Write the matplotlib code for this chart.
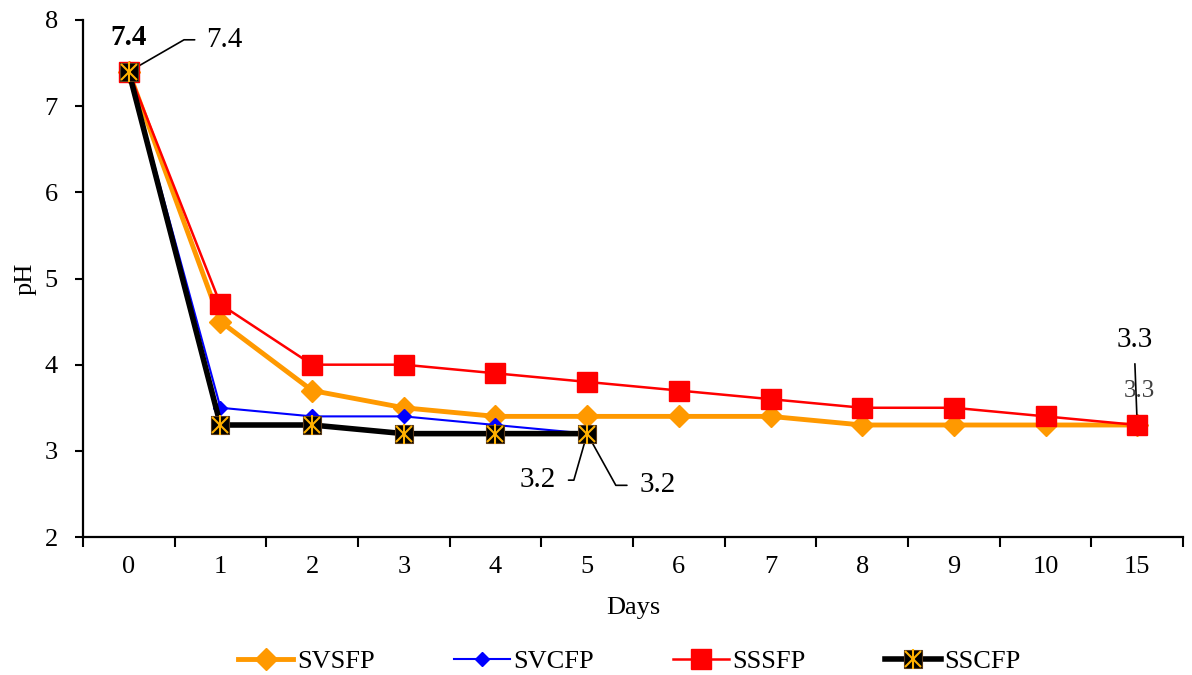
import matplotlib
matplotlib.use("Agg")
import matplotlib.pyplot as plt
from matplotlib.legend_handler import HandlerTuple

plt.rcParams['font.family'] = ['Liberation Serif', 'DejaVu Serif']

days = ['0', '1', '2', '3', '4', '5', '6', '7', '8', '9', '10', '15']
svsfp = [7.4, 4.5, 3.7, 3.5, 3.4, 3.4, 3.4, 3.4, 3.3, 3.3, 3.3, 3.3]
svcfp = [7.4, 3.5, 3.4, 3.4, 3.3, 3.2]
sssfp = [7.4, 4.7, 4.0, 4.0, 3.9, 3.8, 3.7, 3.6, 3.5, 3.5, 3.4, 3.3]
sscfp = [7.4, 3.3, 3.3, 3.2, 3.2, 3.2]

FS = 19
AFS = 21

fig = plt.figure(figsize=(11.92, 6.75), dpi=100)
ax = fig.add_axes([0.0696, 0.2044, 0.9229, 0.766])

xa = list(range(len(days)))
xs = xa[:len(svcfp)]

h1, = ax.plot(xa, svsfp, color='#FF9900', lw=3.5, marker='D', ms=11,
              mec='#FF9900', label='SVSFP', zorder=3)
h2, = ax.plot(xs, svcfp, color='#0000FF', lw=1.5, marker='D', ms=7.5,
              mec='#0000FF', label='SVCFP', zorder=4)
h3, = ax.plot(xa, sssfp, color='#FF0000', lw=1.8, marker='s', ms=14,
              mec='#FF0000', label='SSSFP', zorder=5)
h4, = ax.plot(xs, sscfp, color='black', lw=4, marker='s', ms=13.5,
              mfc='black', mec='#5a3a1a', mew=0.8, label='SSCFP', zorder=6)
h4x, = ax.plot(xs, sscfp, ls='none', marker='x', ms=11, mec='#FFB000',
               mew=1.5, zorder=7)
h4v, = ax.plot(xs, sscfp, ls='none', marker='|', ms=15, mec='#FFB000',
               mew=1.5, zorder=7)

ax.set_xlim(-0.5, len(days) - 0.5)
ax.set_ylim(2, 8)
ax.set_xticks(xa)
ax.set_xticklabels(days)
ax.set_xticks([i - 0.5 for i in range(len(days) + 1)], minor=True)
ax.tick_params(axis='x', which='major', length=0, pad=14, labelsize=FS)
ax.tick_params(axis='x', which='minor', length=7, width=1.5, direction='out')
ax.tick_params(axis='y', length=6, width=1.5, direction='out', pad=12,
               labelsize=FS)
for s in ['top', 'right']:
    ax.spines[s].set_visible(False)
for s in ['left', 'bottom']:
    ax.spines[s].set_linewidth(1.6)

ax.set_xlabel('Days', fontsize=FS, labelpad=13)
ax.set_ylabel('pH', fontsize=FS, labelpad=6)

# data labels
ax.text(0, 7.8, '7.4', fontsize=AFS, fontweight='bold', ha='center', va='center')
lead = dict(arrowstyle='-', color='black', lw=1.2, shrinkB=0)
ax.annotate('7.4', xy=(0, svsfp[0]), xytext=(0.84, 7.77), fontsize=AFS,
            ha='left', va='center',
            arrowprops=dict(lead, relpos=(0, 0.5), shrinkA=6,
                            connectionstyle='angle,angleA=0,angleB=30,rad=0'))
ax.annotate('3.2', xy=(5, svcfp[-1]), xytext=(4.66, 2.66), fontsize=AFS,
            ha='right', va='center',
            arrowprops=dict(lead, relpos=(1, 0.5), shrinkA=7,
                            connectionstyle='angle,angleA=0,angleB=74,rad=0'))
ax.annotate('3.2', xy=(5, sscfp[-1]), xytext=(5.57, 2.6), fontsize=AFS,
            ha='left', va='center',
            arrowprops=dict(lead, relpos=(0, 0.5), shrinkA=7,
                            connectionstyle='angle,angleA=0,angleB=119,rad=0'))
ax.annotate('3.3', xy=(11, sssfp[-1]), xytext=(10.97, 4.29), fontsize=AFS,
            ha='center', va='center',
            arrowprops=dict(lead, relpos=(0.5, 0), shrinkA=6))
ax.text(11.02, 3.7, '3.3', fontsize=18, color='#404040', ha='center',
        va='center', zorder=8)

fig.legend([h1, h2, h3, (h4, h4x, h4v)], ['SVSFP', 'SVCFP', 'SSSFP', 'SSCFP'],
           handler_map={tuple: HandlerTuple(ndivide=1)},
           loc='center', bbox_to_anchor=(0.528, 0.02), ncol=4, frameon=False,
           fontsize=FS, handlelength=2.1, handletextpad=0.15,
           columnspacing=3.0)

fig.savefig('out.png', dpi=100)
